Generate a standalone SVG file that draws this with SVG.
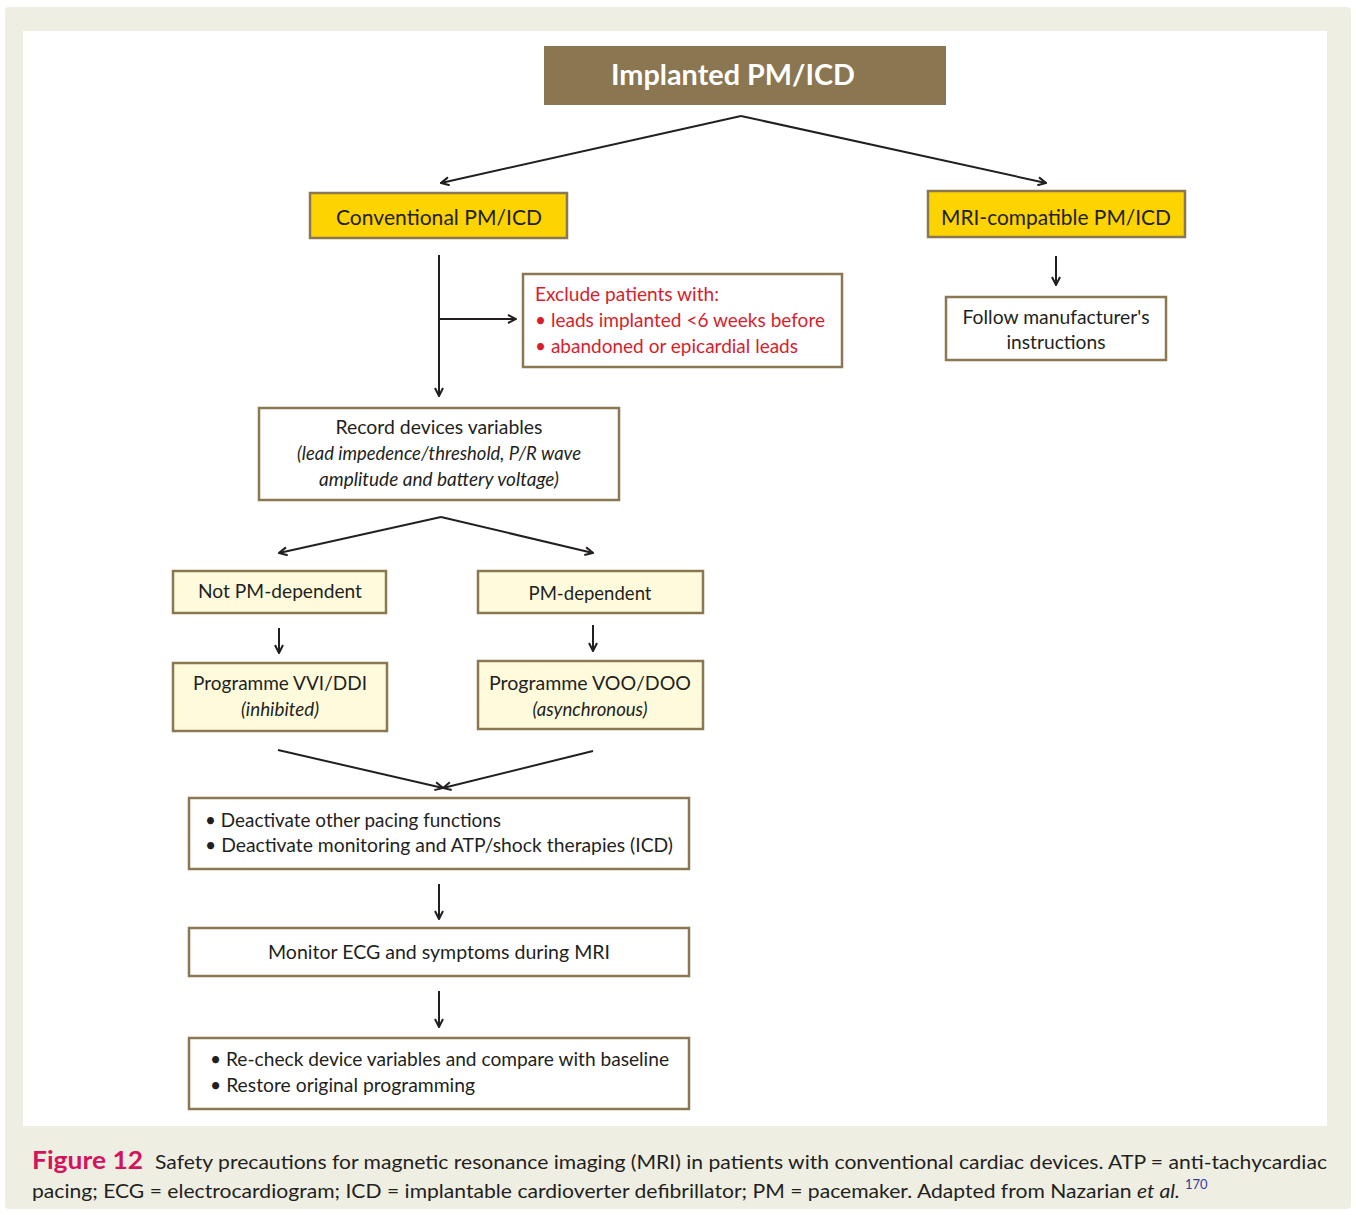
<svg xmlns="http://www.w3.org/2000/svg" width="1356" height="1215" viewBox="0 0 1356 1215">
<defs>
<style>
.box{stroke:#8b7852;stroke-width:2.5}
.t{font-family:Lato,"Open Sans","Liberation Sans",sans-serif;font-size:20px;fill:#231f20}
.c{text-anchor:middle}
.i{font-style:italic}
.red{fill:#d71e2c}
.conn line{stroke:#231f20;stroke-width:2;fill:none}
</style>
<marker id="ah" viewBox="0 0 10 10" refX="9" refY="5" markerWidth="10" markerHeight="10" markerUnits="userSpaceOnUse" orient="auto">
<path d="M1,1 L9,5 L1,9" fill="none" stroke="#231f20" stroke-width="2"/>
</marker>
</defs>
<rect x="0" y="0" width="1356" height="1215" fill="#ffffff"/>
<rect x="5" y="7" width="1346" height="1202" rx="4" fill="#efeee3"/>
<rect x="23" y="31" width="1304" height="1095" fill="#ffffff"/>

<g id="n-implanted">
<rect x="544" y="46" width="402" height="59" fill="#8a7650"/>
<text class="t c" x="733" y="85" style="font-size:28px;font-weight:bold;fill:#ffffff" textLength="244" lengthAdjust="spacingAndGlyphs">Implanted PM/ICD</text>
</g>
<g id="n-conventional">
<rect class="box" x="310" y="193" width="257" height="45" fill="#fdd300"/>
<text class="t c" x="439" y="225" style="font-size:22px" textLength="206" lengthAdjust="spacingAndGlyphs">Conventional PM/ICD</text>
</g>
<g id="n-mri">
<rect class="box" x="928" y="191" width="257" height="46" fill="#fdd300"/>
<text class="t c" x="1056" y="225" style="font-size:22px" textLength="230" lengthAdjust="spacingAndGlyphs">MRI-compatible PM/ICD</text>
</g>
<g id="n-follow">
<rect class="box" x="946" y="297" width="220" height="63" fill="#ffffff"/>
<text class="t c" x="1056" y="324" textLength="187" lengthAdjust="spacingAndGlyphs">Follow manufacturer's</text>
<text class="t c" x="1056" y="349" textLength="99" lengthAdjust="spacingAndGlyphs">instructions</text>
</g>
<g id="n-exclude">
<rect class="box" x="523" y="274" width="319" height="93" fill="#ffffff"/>
<text class="t red" x="535" y="301" textLength="184" lengthAdjust="spacingAndGlyphs">Exclude patients with:</text>
<text class="t red" x="535" y="327" textLength="290" lengthAdjust="spacingAndGlyphs">• leads implanted &lt;6 weeks before</text>
<text class="t red" x="535" y="353" textLength="263" lengthAdjust="spacingAndGlyphs">• abandoned or epicardial leads</text>
</g>
<g id="n-record">
<rect class="box" x="259" y="408" width="360" height="92" fill="#ffffff"/>
<text class="t c" x="439" y="434" textLength="207" lengthAdjust="spacingAndGlyphs">Record devices variables</text>
<text class="t c i" x="439" y="460" textLength="284" lengthAdjust="spacingAndGlyphs">(lead impedence/threshold, P/R wave</text>
<text class="t c i" x="439" y="486" textLength="240" lengthAdjust="spacingAndGlyphs">amplitude and battery voltage)</text>
</g>
<g id="n-notpm">
<rect class="box" x="173" y="571" width="213" height="42" fill="#fefbdc"/>
<text class="t c" x="280" y="598" textLength="164" lengthAdjust="spacingAndGlyphs">Not PM-dependent</text>
</g>
<g id="n-pm">
<rect class="box" x="478" y="571" width="225" height="42" fill="#fefbdc"/>
<text class="t c" x="590" y="600" textLength="123" lengthAdjust="spacingAndGlyphs">PM-dependent</text>
</g>
<g id="n-vvi">
<rect class="box" x="173" y="663" width="214" height="68" fill="#fefbdc"/>
<text class="t c" x="280" y="690" textLength="174" lengthAdjust="spacingAndGlyphs">Programme VVI/DDI</text>
<text class="t c i" x="280" y="716" textLength="78" lengthAdjust="spacingAndGlyphs">(inhibited)</text>
</g>
<g id="n-voo">
<rect class="box" x="478" y="661" width="225" height="68" fill="#fefbdc"/>
<text class="t c" x="590" y="690" textLength="202" lengthAdjust="spacingAndGlyphs">Programme VOO/DOO</text>
<text class="t c i" x="590" y="716" textLength="115" lengthAdjust="spacingAndGlyphs">(asynchronous)</text>
</g>
<g id="n-deactivate">
<rect class="box" x="189" y="798" width="500" height="71" fill="#ffffff"/>
<text class="t" x="205" y="827" textLength="296" lengthAdjust="spacingAndGlyphs">• Deactivate other pacing functions</text>
<text class="t" x="205" y="852" textLength="468" lengthAdjust="spacingAndGlyphs">• Deactivate monitoring and ATP/shock therapies (ICD)</text>
</g>
<g id="n-monitor">
<rect class="box" x="189" y="928" width="500" height="48" fill="#ffffff"/>
<text class="t c" x="439" y="959" textLength="342" lengthAdjust="spacingAndGlyphs">Monitor ECG and symptoms during MRI</text>
</g>
<g id="n-recheck">
<rect class="box" x="189" y="1038" width="500" height="71" fill="#ffffff"/>
<text class="t" x="210" y="1066" textLength="459" lengthAdjust="spacingAndGlyphs">• Re-check device variables and compare with baseline</text>
<text class="t" x="210" y="1092" textLength="265" lengthAdjust="spacingAndGlyphs">• Restore original programming</text>
</g>

<g id="connectors" class="conn">
<line x1="741" y1="116" x2="441" y2="183" marker-end="url(#ah)"/>
<line x1="741" y1="116" x2="1046" y2="183" marker-end="url(#ah)"/>
<line x1="1056" y1="256" x2="1056" y2="285" marker-end="url(#ah)"/>
<line x1="439" y1="255" x2="439" y2="396" marker-end="url(#ah)"/>
<line x1="439" y1="319" x2="516" y2="319" marker-end="url(#ah)"/>
<line x1="441" y1="517" x2="279" y2="553" marker-end="url(#ah)"/>
<line x1="441" y1="517" x2="593" y2="553" marker-end="url(#ah)"/>
<line x1="279" y1="628" x2="279" y2="653" marker-end="url(#ah)"/>
<line x1="593" y1="625" x2="593" y2="651" marker-end="url(#ah)"/>
<line x1="278" y1="750" x2="443" y2="788" marker-end="url(#ah)"/>
<line x1="593" y1="751" x2="443" y2="788" marker-end="url(#ah)"/>
<line x1="439" y1="884" x2="439" y2="919" marker-end="url(#ah)"/>
<line x1="439" y1="991" x2="439" y2="1027" marker-end="url(#ah)"/>
</g>

<g id="caption">
<text class="t" x="32" y="1169" style="font-size:24px;font-weight:bold;fill:#d4145a" textLength="111" lengthAdjust="spacingAndGlyphs">Figure 12</text>
<text class="t" x="155" y="1169" style="font-size:20px" textLength="1172" lengthAdjust="spacingAndGlyphs">Safety precautions for magnetic resonance imaging (MRI) in patients with conventional cardiac devices. ATP = anti-tachycardiac</text>
<text class="t" x="32" y="1198" style="font-size:20px" textLength="1148" lengthAdjust="spacingAndGlyphs">pacing; ECG = electrocardiogram; ICD = implantable cardioverter defibrillator; PM = pacemaker. Adapted from Nazarian <tspan class="i">et al.</tspan></text>
<text class="t" x="1185" y="1189" style="font-size:13px;fill:#3a3a9c">170</text>
</g>
</svg>
